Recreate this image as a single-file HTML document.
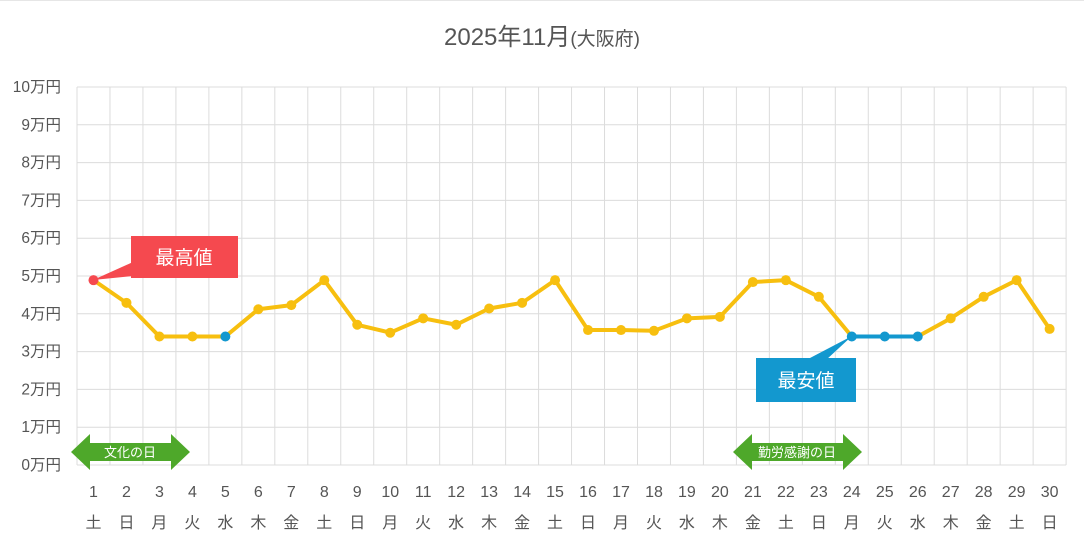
<!DOCTYPE html>
<html><head><meta charset="utf-8"><style>
body{margin:0;background:#fff;}
svg text{font-family:"Liberation Sans","Noto Sans CJK JP",sans-serif;}
</style></head><body>
<svg width="1084" height="544" viewBox="0 0 1084 544" xmlns="http://www.w3.org/2000/svg">
<rect x="0" y="0" width="1084" height="544" fill="#fff"/>
<line x1="0" y1="0.5" x2="1084" y2="0.5" stroke="#e6e6e6"/>
<text x="542" y="45" font-size="24" fill="#555" text-anchor="middle">2025年11月<tspan font-size="19">(大阪府)</tspan></text>
<g id="grid" stroke="#dcdcdc" stroke-width="1"></g>
<g id="ylab" font-size="15.5" fill="#555" text-anchor="end"></g>
<g id="xlab" font-size="16" fill="#555" text-anchor="middle"></g>
<polygon points="71,452 90,434 90,443 171,443 171,434 190,452 171,470 171,461 90,461 90,470" fill="#4ea82a"/>
<text x="130" y="457" font-size="13" fill="#fff" text-anchor="middle">文化の日</text>
<polygon points="733,452 752,434 752,443 843,443 843,434 862,452 843,470 843,461 752,461 752,470" fill="#4ea82a"/>
<text x="797" y="457" font-size="13" fill="#fff" text-anchor="middle">勤労感謝の日</text>
<g id="series"></g>
<polygon points="93,280 133,262 133,276" fill="#f5494f"/>
<rect x="131" y="236" width="107" height="42" fill="#f5494f"/>
<text x="184" y="264" font-size="19" fill="#fff" text-anchor="middle">最高値</text>
<polygon points="852,336 810,358 826,360" fill="#1398cf"/>
<rect x="756" y="358" width="100" height="44" fill="#1398cf"/>
<text x="806" y="387" font-size="19" fill="#fff" text-anchor="middle">最安値</text>
</svg>
<script>
var ns="http://www.w3.org/2000/svg";
function el(p,t,a,txt){var e=document.createElementNS(ns,t);for(var k in a)e.setAttribute(k,a[k]);if(txt)e.textContent=txt;document.getElementById(p).appendChild(e);return e;}
var x0=77,cw=32.97,y0=465,rh=37.8;
for(var i=0;i<=30;i++){var x=x0+i*cw;el("grid","line",{x1:x,y1:87,x2:x,y2:y0});}
for(var j=0;j<=10;j++){var y=y0-j*rh;el("grid","line",{x1:x0,y1:y,x2:x0+30*cw,y2:y});el("ylab","text",{x:61,y:y+5},j+"万円");}
var wd=["土","日","月","火","水","木","金"];
for(var d=1;d<=30;d++){var cx=x0+(d-0.5)*cw;el("xlab","text",{x:cx,y:497},d);el("xlab","text",{x:cx,y:528},wd[(d-1)%7]);}
var v=[4.89,4.29,3.4,3.4,3.4,4.12,4.23,4.89,3.71,3.5,3.88,3.71,4.14,4.29,4.89,3.57,3.57,3.55,3.88,3.92,4.84,4.89,4.45,3.4,3.4,3.4,3.88,4.45,4.89,3.6];
var pts=v.map(function(a,i){return [x0+(i+0.5)*cw,y0-a*rh];});
el("series","polyline",{points:pts.map(function(p){return p.join(",")}).join(" "),fill:"none",stroke:"#f7bf0f","stroke-width":4,"stroke-linejoin":"round"});
el("series","polyline",{points:[pts[23],pts[24],pts[25]].map(function(p){return p.join(",")}).join(" "),fill:"none",stroke:"#1398cf","stroke-width":4});
pts.forEach(function(p,i){var c="#f7bf0f";if(i==0)c="#f5494f";if(i==4||i==23||i==24||i==25)c="#1398cf";el("series","circle",{cx:p[0],cy:p[1],r:5,fill:c});});
</script>
</body></html>
